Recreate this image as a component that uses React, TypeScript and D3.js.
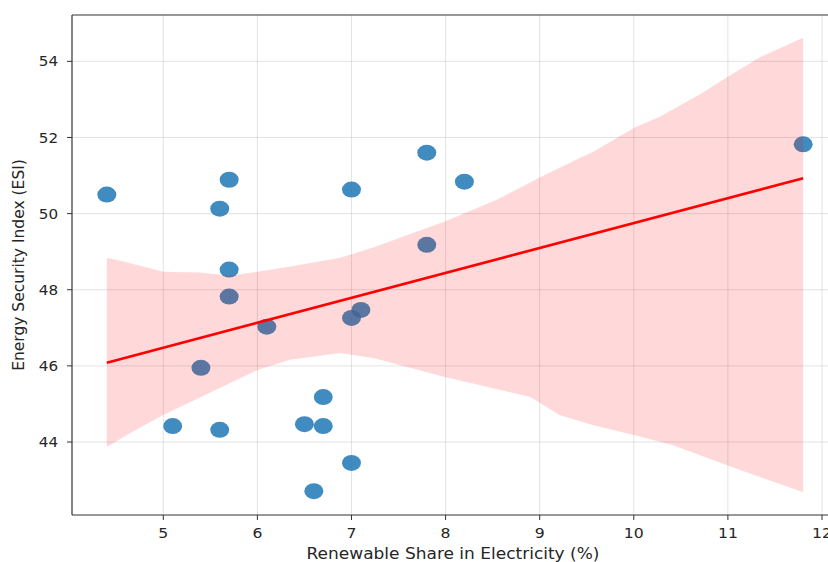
import React from 'react';
import * as d3 from 'd3';

// scatter points
const shareX = [4.4, 5.7, 5.6, 5.7, 5.7, 5.4, 5.1, 5.6, 6.1, 6.5, 6.7, 6.7, 7.0, 6.6, 7.0, 7.0, 7.1, 7.8, 7.8, 8.2, 11.8];
const esiY = [50.5, 50.89, 50.13, 48.53, 47.82, 45.95, 44.42, 44.32, 47.03, 44.47, 45.18, 44.42, 43.45, 42.71, 50.63, 47.26, 47.47, 51.6, 49.18, 50.84, 51.82];

// bootstrap confidence band edges
const bandUpX = [4.4, 4.58, 5.0, 5.39, 5.71, 6.0, 6.35, 6.88, 7.23, 7.99, 8.55, 9.0, 9.43, 9.56, 10.01, 10.28, 10.7, 10.99, 11.34, 11.8];
const bandUpY = [48.84, 48.74, 48.47, 48.45, 48.37, 48.47, 48.61, 48.84, 49.11, 49.79, 50.37, 50.95, 51.47, 51.61, 52.26, 52.55, 53.13, 53.58, 54.11, 54.62];
const bandLoX = [4.4, 4.65, 5.0, 6.0, 6.35, 6.88, 7.0, 7.23, 7.99, 8.9, 9.21, 9.56, 10.01, 10.41, 10.99, 11.8];
const bandLoY = [43.87, 44.24, 44.71, 45.89, 46.16, 46.34, 46.29, 46.21, 45.71, 45.18, 44.71, 44.45, 44.18, 43.92, 43.39, 42.68];

const xTicks = [5, 6, 7, 8, 9, 10, 11, 12];
const yTicks = [44, 46, 48, 50, 52, 54];

const W = 828;
const H = 562;
const left = 72, right = 838, top = 15, bottom = 515;

function pad(lo: number, hi: number) {
  const m = (hi - lo) * 0.05;
  return [lo - m, hi + m];
}

export default function App() {
  const xExt = d3.extent(shareX) as [number, number];
  const allY = esiY.concat(bandUpY, bandLoY);
  const yExt = d3.extent(allY) as [number, number];

  const x = d3.scaleLinear().domain(pad(xExt[0], xExt[1])).range([left, right]);
  const y = d3.scaleLinear().domain(pad(yExt[0], yExt[1])).range([bottom, top]);

  // least squares fit, same as seaborn's regplot line
  const mx = d3.mean(shareX)!;
  const my = d3.mean(esiY)!;
  let sxy = 0, sxx = 0;
  shareX.forEach((v, i) => {
    sxy += (v - mx) * (esiY[i] - my);
    sxx += (v - mx) * (v - mx);
  });
  const slope = sxy / sxx;
  const icpt = my - slope * mx;
  const fit = (v: number) => icpt + slope * v;

  const upper = bandUpX.map((v, i) => [x(v), y(bandUpY[i])]);
  const lower = bandLoX.map((v, i) => [x(v), y(bandLoY[i])]).reverse();
  const bandPath = d3.line()(upper.concat(lower) as [number, number][]) + 'Z';

  const font = 'DejaVu Sans, sans-serif';

  return (
    <svg width={W} height={H} style={{ position: 'absolute', left: 0, top: 0 }} fontFamily={font}>
      <rect width={W} height={H} fill="#fff" />
      <defs>
        <clipPath id="plot">
          <rect x={left} y={top} width={right - left} height={bottom - top} />
        </clipPath>
      </defs>

      {/* grid */}
      <g stroke="#b0b0b0" strokeOpacity={0.35} strokeWidth={1}>
        {xTicks.map((t) => (
          <line key={'gx' + t} x1={x(t)} x2={x(t)} y1={top} y2={bottom} />
        ))}
        {yTicks.map((t) => (
          <line key={'gy' + t} x1={left} x2={right} y1={y(t)} y2={y(t)} />
        ))}
      </g>

      <g clipPath="url(#plot)">
        {shareX.map((v, i) => (
          <ellipse key={i} cx={x(v)} cy={y(esiY[i])} rx={9.5} ry={8} fill="#1f77b4" fillOpacity={0.85} />
        ))}
        <path d={bandPath} fill="#ff0000" fillOpacity={0.15} />
        <line x1={x(xExt[0])} y1={y(fit(xExt[0]))} x2={x(xExt[1])} y2={y(fit(xExt[1]))} stroke="#ff0000" strokeWidth={2.6} />
      </g>

      {/* spines */}
      <g stroke="#333" strokeWidth={1.2} fill="none">
        <line x1={left} x2={left} y1={top} y2={bottom} />
        <line x1={left} x2={right} y1={bottom} y2={bottom} />
        <line x1={left} x2={right} y1={top} y2={top} />
        <line x1={right} x2={right} y1={top} y2={bottom} />
      </g>

      {/* x ticks */}
      <g fontSize={14.5} fill="#262626" textAnchor="middle">
        {xTicks.map((t) => (
          <g key={'tx' + t}>
            <line x1={x(t)} x2={x(t)} y1={bottom} y2={bottom + 5} stroke="#333" strokeWidth={1} />
            <text transform={`translate(${x(t)}, 538) scale(1.08, 1)`}>{t}</text>
          </g>
        ))}
      </g>
      <g fontSize={14} fill="#262626" textAnchor="end">
        {yTicks.map((t) => (
          <g key={'ty' + t}>
            <line x1={left - 5} x2={left} y1={y(t)} y2={y(t)} stroke="#333" strokeWidth={1} />
            <text transform={`translate(58, ${y(t)}) scale(1.08, 1)`} dy="0.36em">{t}</text>
          </g>
        ))}
      </g>

      <text x={(left + right) / 2 - 2} y={559} textAnchor="middle" fontSize={15}
        textLength={293} lengthAdjust="spacingAndGlyphs" fill="#262626">
        Renewable Share in Electricity (%)
      </text>
      <text transform={`translate(24, ${(top + bottom) / 2}) rotate(-90)`} textAnchor="middle" fontSize={15.5} fill="#262626">
        Energy Security Index (ESI)
      </text>
    </svg>
  );
}
